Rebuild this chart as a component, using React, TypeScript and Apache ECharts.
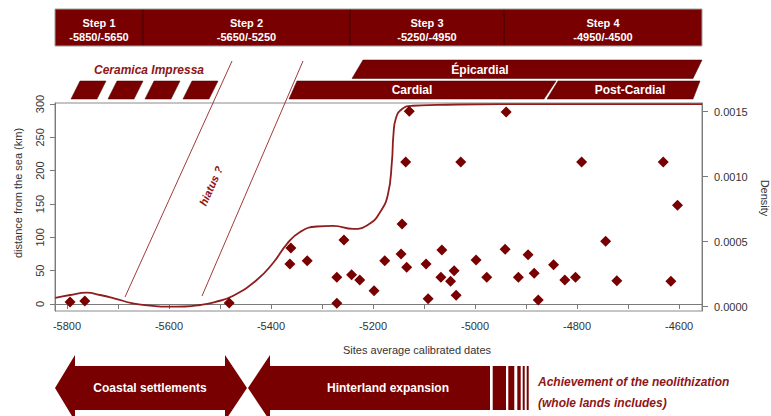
import React, { useEffect, useRef } from "react";
import * as echarts from "echarts";

// ---------- data ----------
const xTickValues = [-5800, -5700, -5600, -5500, -5400, -5300, -5200, -5100, -5000, -4900, -4800, -4700, -4600];
const xLabelValues = [-5800, -5600, -5400, -5200, -5000, -4800, -4600];
const yLeftTicks = [0, 50, 100, 150, 200, 250, 300];
const yRightTicks = [0, 0.0005, 0.001, 0.0015];

const siteDates = [
  -5794, -5765, -5482,
  -5129, -5136, -5028, -5143, -5257, -5361, -5065, -5145, -5363, -5329, -5177, -4998,
  -5134, -5096, -5041, -5242, -5226, -5271, -5067, -5048, -4977, -5198, -5092, -5037, -5271,
  -4939, -4791, -4631, -4603, -4744, -4941, -4896, -4846, -4915, -4884, -4824, -4803, -4722, -4616, -4876,
];
const siteDistances = [
  3, 4.5, 1.5,
  289, 213, 213, 120, 96, 84, 81, 75, 60, 65, 65, 66,
  55, 60, 50, 44, 36, 40, 40, 34, 40, 20, 8, 13, 1,
  288, 213, 213, 148, 94, 82, 74, 59, 40, 46, 36, 40, 35, 34, 6,
];

const densityYears = [
  -5823, -5794, -5761, -5735, -5706, -5671, -5637, -5604, -5569, -5539, -5510, -5475,
  -5428, -5396, -5369, -5343, -5310, -5278, -5239, -5206, -5186, -5171, -5163, -5160,
  -5155, -5143, -5122, -5075, -4951, -4555,
];
const densityValues = [
  0.000067, 0.00009, 0.000108, 0.00009, 0.000063, 0.000026, 0.000009, 0.0, 0.0000015, 0.000013, 0.000036, 0.000082,
  0.000205, 0.000336, 0.000482, 0.000575, 0.000617, 0.000621, 0.000598, 0.00064, 0.000728, 0.000859, 0.001113, 0.001321,
  0.001452, 0.001521, 0.001546, 0.001552, 0.001559, 0.001559,
];

const stepNames = ["Step 1", "Step 2", "Step 3", "Step 4"];
const stepRanges = ["-5850/-5650", "-5650/-5250", "-5250/-4950", "-4950/-4500"];
const cultureLabels = ["Ceramica Impressa", "Épicardial", "Cardial", "Post-Cardial"];
const phaseLabels = ["Coastal settlements", "Hinterland expansion"];
const achievementLines = ["Achievement of the neolithization", "(whole lands includes)"];

// ---------- layout / style ----------
const DARK = "#780000";
const TEXT_RED = "#8e1616";
const FONT = '"Liberation Sans", Arial, sans-serif';
const stepEdges = [55, 143, 350, 504, 702];
const impressaX = [80, 117, 154, 192];

function buildGraphics() {
  const g: any[] = [];
  // step header
  for (let i = 0; i < 4; i++) {
    g.push({
      type: "rect",
      shape: { x: stepEdges[i], y: 9, width: stepEdges[i + 1] - stepEdges[i], height: 37 },
      style: { fill: DARK },
    });
    const cx = (stepEdges[i] + stepEdges[i + 1]) / 2;
    g.push({ type: "text", x: cx, y: 22.5, style: { text: stepNames[i], fill: "#fff", fontSize: 11, fontWeight: "bold", fontFamily: FONT, align: "center", verticalAlign: "middle" } });
    g.push({ type: "text", x: cx, y: 36.5, style: { text: stepRanges[i], fill: "#fff", fontSize: 11, fontWeight: "bold", fontFamily: FONT, align: "center", verticalAlign: "middle" } });
  }
  for (let i = 1; i < 4; i++) {
    g.push({ type: "line", shape: { x1: stepEdges[i], y1: 9, x2: stepEdges[i], y2: 46 }, style: { stroke: "#3a0000", lineWidth: 1 } });
  }
  g.push({ type: "rect", shape: { x: 55, y: 9, width: 647, height: 37 }, style: { fill: "none", stroke: "#a0a0a0", lineWidth: 1 } });

  // Ceramica Impressa
  for (const x of impressaX) {
    g.push({
      type: "polygon",
      shape: { points: [[x, 81], [x + 26, 81], [x + 17, 99], [x - 9, 99]] },
      style: { fill: DARK, stroke: "#4a0000", lineWidth: 0.5 },
    });
  }
  g.push({ type: "text", x: 149, y: 70, style: { text: cultureLabels[0], fill: TEXT_RED, fontSize: 12, fontWeight: "bold", fontStyle: "italic", fontFamily: FONT, align: "center", verticalAlign: "middle" } });

  // Épicardial
  g.push({ type: "polygon", shape: { points: [[363, 60], [702, 60], [693, 78.5], [352, 78.5]] }, style: { fill: DARK, stroke: "#4a0000", lineWidth: 0.5 } });
  g.push({ type: "text", x: 480, y: 69.5, style: { text: cultureLabels[1], fill: "#fff", fontSize: 12, fontWeight: "bold", fontFamily: FONT, align: "center", verticalAlign: "middle" } });
  // Cardial
  g.push({ type: "polygon", shape: { points: [[297, 81], [556, 81], [544, 99], [289, 99]] }, style: { fill: DARK, stroke: "#4a0000", lineWidth: 0.5 } });
  g.push({ type: "text", x: 412, y: 90, style: { text: cultureLabels[2], fill: "#fff", fontSize: 12, fontWeight: "bold", fontFamily: FONT, align: "center", verticalAlign: "middle" } });
  // Post-Cardial
  g.push({ type: "polygon", shape: { points: [[558, 81], [700, 81], [693, 99], [547, 99]] }, style: { fill: DARK, stroke: "#4a0000", lineWidth: 0.5 } });
  g.push({ type: "text", x: 630, y: 90, style: { text: cultureLabels[3], fill: "#fff", fontSize: 12, fontWeight: "bold", fontFamily: FONT, align: "center", verticalAlign: "middle" } });

  // hiatus lines
  g.push({ type: "line", shape: { x1: 232, y1: 61, x2: 125, y2: 297 }, style: { stroke: "#a33a3a", lineWidth: 1 } });
  g.push({ type: "line", shape: { x1: 303, y1: 61, x2: 202, y2: 296 }, style: { stroke: "#a33a3a", lineWidth: 1 } });
  g.push({
    type: "text", x: 211, y: 186, rotation: Math.atan2(236, 107),
    style: { text: "hiatus ?", fill: TEXT_RED, fontSize: 11, fontWeight: "bold", fontStyle: "italic", fontFamily: FONT, align: "center", verticalAlign: "middle" },
  });

  // bottom arrows
  g.push({
    type: "polygon",
    shape: { points: [[55, 388], [75, 355], [75, 366], [225, 366], [225, 355], [247, 388], [225, 421], [225, 410], [75, 410], [75, 421]] },
    style: { fill: DARK },
  });
  g.push({ type: "text", x: 150, y: 388, style: { text: phaseLabels[0], fill: "#fff", fontSize: 12, fontWeight: "bold", fontFamily: FONT, align: "center", verticalAlign: "middle" } });
  g.push({
    type: "polygon",
    shape: { points: [[248, 388], [270, 355], [270, 366], [490, 366], [490, 410], [270, 410], [270, 421]] },
    style: { fill: DARK },
  });
  g.push({ type: "text", x: 388, y: 388, style: { text: phaseLabels[1], fill: "#fff", fontSize: 12, fontWeight: "bold", fontFamily: FONT, align: "center", verticalAlign: "middle" } });
  const stripes = [[492.7, 506], [508.3, 514.3], [517.3, 520.7], [522.7, 524.7], [526.7, 528.7]];
  for (const [a, b] of stripes) {
    g.push({ type: "rect", shape: { x: a, y: 366, width: b - a, height: 44 }, style: { fill: DARK } });
  }
  g.push({ type: "text", x: 538, y: 382, style: { text: achievementLines[0], fill: TEXT_RED, fontSize: 12, fontWeight: "bold", fontStyle: "italic", fontFamily: FONT, align: "left", verticalAlign: "middle" } });
  g.push({ type: "text", x: 538, y: 403, style: { text: achievementLines[1], fill: TEXT_RED, fontSize: 12, fontWeight: "bold", fontStyle: "italic", fontFamily: FONT, align: "left", verticalAlign: "middle" } });

  // axis names
  g.push({ type: "text", x: 417, y: 350, style: { text: "Sites average calibrated dates", fill: "#333", fontSize: 11, fontFamily: FONT, align: "center", verticalAlign: "middle" } });
  g.push({ type: "text", x: 18, y: 193, rotation: Math.PI / 2, style: { text: "distance from the sea (km)", fill: "#333", fontSize: 11, fontFamily: FONT, align: "center", verticalAlign: "middle" } });
  g.push({ type: "text", x: 765, y: 198, rotation: -Math.PI / 2, style: { text: "Density", fill: "#333", fontSize: 11, fontFamily: FONT, align: "center", verticalAlign: "middle" } });
  return g;
}

export default function App() {
  const ref = useRef<HTMLDivElement>(null);
  useEffect(() => {
    document.body.style.margin = "0";
    if (!ref.current) return;
    const chart = echarts.init(ref.current, undefined, { renderer: "svg" });
    const axisColor = "#7a7a7a";
    const labelStyle = { color: "#333", fontSize: 11, fontFamily: FONT };
    chart.setOption({
      animation: false,
      grid: { left: 55, right: 69, top: 103, bottom: 105, show: true, borderColor: "#8a8a8a", borderWidth: 1, backgroundColor: "transparent" },
      xAxis: {
        type: "value", min: -5823.5, max: -4555,
        axisLine: { show: true, lineStyle: { color: axisColor } },
        axisTick: { show: true, length: 5, lineStyle: { color: axisColor }, customValues: xTickValues },
        axisLabel: { ...labelStyle, margin: 9, customValues: xLabelValues, formatter: (v: number) => String(v) },
        splitLine: { show: false },
      },
      yAxis: [
        {
          type: "value", min: -10.5, max: 301.5,
          axisLine: { show: true, lineStyle: { color: axisColor } },
          axisTick: { show: true, length: 5, lineStyle: { color: axisColor }, customValues: yLeftTicks },
          axisLabel: { ...labelStyle, rotate: 90, margin: 10, customValues: yLeftTicks, formatter: (v: number) => String(v) },
          splitLine: { show: false },
        },
        {
          type: "value", min: -0.0000331, max: 0.001567, position: "right",
          axisLine: { show: true, lineStyle: { color: axisColor } },
          axisTick: { show: true, length: 6, lineStyle: { color: axisColor }, customValues: yRightTicks },
          axisLabel: { ...labelStyle, margin: 12, customValues: yRightTicks, formatter: (v: number) => v.toFixed(4) },
          splitLine: { show: false },
        },
      ],
      series: [
        {
          type: "line", yAxisIndex: 1, showSymbol: false, smooth: 0.5,
          data: densityYears.map((y, i) => [y, densityValues[i]]),
          lineStyle: { color: "#8f1d1d", width: 1.8 }, z: 2,
        },
        {
          type: "scatter", yAxisIndex: 0, symbol: "diamond", symbolSize: 11,
          data: siteDates.map((d, i) => [d, siteDistances[i]]),
          itemStyle: { color: DARK, opacity: 1 }, z: 3,
        },
      ],
      graphic: buildGraphics(),
    });
    return () => chart.dispose();
  }, []);
  return <div ref={ref} style={{ width: 771, height: 416 }} />;
}
